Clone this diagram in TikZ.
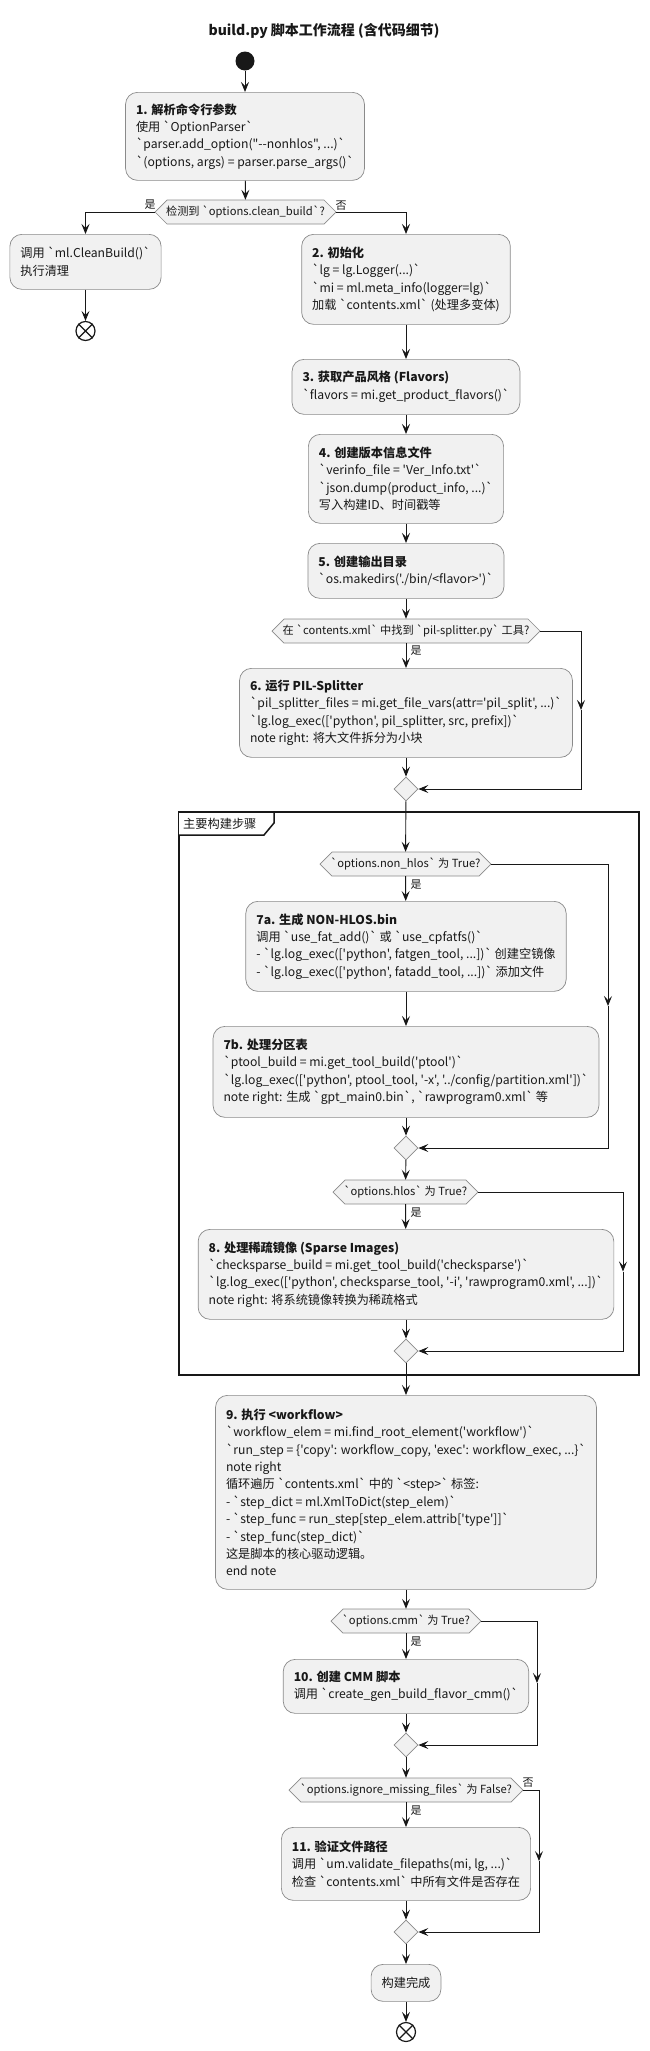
\documentclass[tikz,border=0pt]{standalone}
\usepackage{fontspec}
\newfontfamily\cn{Noto Sans CJK SC}
\usetikzlibrary{arrows.meta,calc,shapes.geometric}
\definecolor{boxfill}{HTML}{F1F1F1}
\definecolor{boxline}{HTML}{8A8A8A}
\definecolor{ink}{HTML}{181818}
\tikzset{
  box/.style={draw=boxline, fill=boxfill, rounded corners=12pt, line width=0.7pt, align=left,
    inner xsep=10.5pt, inner ysep=0pt, anchor=north, font=\cn\fontsize{12.2}{17.4}\selectfont, text=ink},
  hexlbl/.style={inner sep=0pt, minimum height=24pt, font=\cn\fontsize{11.2}{14}\selectfont, text=ink},
  hexshape/.style={draw=boxline, fill=boxfill, line width=0.7pt},
  merge/.style={shape=diamond, draw=boxline, fill=boxfill, line width=0.7pt, minimum width=24pt, minimum height=24pt, inner sep=0pt},
  arr/.style={draw=ink, line width=0.9pt, -{Stealth[length=10pt,width=8pt,inset=4pt]}},
  lbl/.style={font=\cn\fontsize{11}{13}\selectfont, text=ink, inner sep=0pt},
  endc/.style={circle, draw=ink, fill=white, line width=1.2pt, minimum size=19pt, inner sep=0pt},
  frm/.style={draw=ink, line width=1.5pt}
}
\newcommand\hexnode[5]{%
  \path[hexshape] ({#2-#4/2},#3) -- ({#2-#4/2+12},{#3-12}) -- ({#2+#4/2-12},{#3-12}) -- ({#2+#4/2},#3)
     -- ({#2+#4/2-12},{#3+12}) -- ({#2-#4/2+12},{#3+12}) -- cycle;
  \node[hexlbl, minimum width=#4pt] (#1) at (#2,#3) {#5};}
\begin{document}
\begin{tikzpicture}[x=1pt,y=-1pt]
\useasboundingbox (0,0) rectangle (649,2051);
% title
\node[font=\cn\bfseries\fontsize{14}{16}\selectfont, text=ink] (title) at (324,31) {build.py 脚本工作流程 (含代码细节)};
% start
\node[circle, fill=ink, minimum size=19pt, inner sep=0pt] (start) at (245,61) {};
\node[box, minimum width=236pt, minimum height=88pt] (b1) at (245,92)
  {\textbf{1. 解析命令行参数}\\使用 `OptionParser`\\`parser.add\_option("--nonhlos", ...)`\\`(options, args) = parser.parse\_args()`};
\hexnode{d1}{245.5}{212}{181}{检测到 `options.clean\_build`?}
\node[box, minimum width=147pt, minimum height=55pt] (bclean) at (85.5,234)
  {调用 `ml.CleanBuild()`\\执行清理};
\node[endc] (e1) at (85.5,331) {};
\draw[ink, line width=1.2pt] (e1.north east) -- (e1.south west) (e1.north west) -- (e1.south east);
\node[box, minimum width=205pt, minimum height=90pt] (b2) at (406,234)
  {\textbf{2. 初始化}\\`lg = lg.Logger(...)`\\`mi = ml.meta\_info(logger=lg)`\\加载 `contents.xml` (处理多变体)};
\node[box, minimum width=224pt, minimum height=55pt] (b3) at (406,359)
  {\textbf{3. 获取产品风格 (Flavors)}\\`flavors = mi.get\_product\_flavors()`};
\node[box, minimum width=192pt, minimum height=89pt] (b4) at (406,434)
  {\textbf{4. 创建版本信息文件}\\`verinfo\_file = 'Ver\_Info.txt'`\\`json.dump(product\_info, ...)`\\写入构建ID、时间戳等};
\node[box, minimum width=194pt, minimum height=55pt] (b5) at (406,543)
  {\textbf{5. 创建输出目录}\\`os.makedirs('./bin/<flavor>')`};
\hexnode{d2}{406}{631}{268}{在 `contents.xml` 中找到 `pil-splitter.py` 工具?}
\node[box, minimum width=330pt, minimum height=89pt] (b6) at (406,668)
  {\textbf{6. 运行 PIL-Splitter}\\`pil\_splitter\_files = mi.get\_file\_vars(attr='pil\_split', ...)`\\`lg.log\_exec(['python', pil\_splitter, src, prefix])`\\note right: 将大文件拆分为小块};
\node[merge] (m1) at (406,789) {};
% group frame
\draw[frm] (179,812) rectangle (639,1375);
\draw[frm, fill=white] (179,812) -- (274,812) -- (274,823) -- (264,835) -- (179,835);
\node[anchor=west, font=\cn\fontsize{12.2}{15}\selectfont, text=ink, inner sep=0pt] (grp) at (183,823.5) {主要构建步骤};
\hexnode{d3}{405.5}{864}{171}{`options.non\_hlos` 为 True?}
\node[box, minimum width=318pt, minimum height=90pt] (b7a) at (406,901)
  {\textbf{7a. 生成 NON-HLOS.bin}\\调用 `use\_fat\_add()` 或 `use\_cpfatfs()`\\- `lg.log\_exec(['python', fatgen\_tool, ...])` 创建空镜像\\- `lg.log\_exec(['python', fatadd\_tool, ...])` 添加文件};
\node[box, minimum width=384pt, minimum height=91pt] (b7b) at (406,1026)
  {\textbf{7b. 处理分区表}\\`ptool\_build = mi.get\_tool\_build('ptool')`\\`lg.log\_exec(['python', ptool\_tool, '-x', '../config/partition.xml'])`\\note right: 生成 `gpt\_main0.bin`, `rawprogram0.xml` 等};
\node[merge] (m2) at (406,1148) {};
\hexnode{d4}{405.5}{1192}{145}{`options.hlos` 为 True?}
\node[box, minimum width=412pt, minimum height=90pt] (b8) at (406,1229)
  {\textbf{8. 处理稀疏镜像 (Sparse Images)}\\`checksparse\_build = mi.get\_tool\_build('checksparse')`\\`lg.log\_exec(['python', checksparse\_tool, '-i', 'rawprogram0.xml', ...])`\\note right: 将系统镜像转换为稀疏格式};
\node[merge] (m3) at (406,1351) {};
\node[box, minimum width=376pt, minimum height=194pt] (b9) at (406,1395)
  {\textbf{9. 执行 <workflow>}\\`workflow\_elem = mi.find\_root\_element('workflow')`\\`run\_step = \{'copy': workflow\_copy, 'exec': workflow\_exec, ...\}`\\note right\\循环遍历 `contents.xml` 中的 `<step>` 标签:\\- `step\_dict = ml.XmlToDict(step\_elem)`\\- `step\_func = run\_step[step\_elem.attrib['type']]`\\- `step\_func(step\_dict)`\\这是脚本的核心驱动逻辑。\\end note};
\hexnode{d5}{406}{1621}{150}{`options.cmm` 为 True?}
\node[box, minimum width=242pt, minimum height=54pt] (b10) at (406,1659)
  {\textbf{10. 创建 CMM 脚本}\\调用 `create\_gen\_build\_flavor\_cmm()`};
\node[merge] (m4) at (406,1745) {};
\hexnode{d6}{406}{1790}{234}{`options.ignore\_missing\_files` 为 False?}
\node[box, minimum width=246pt, minimum height=73pt] (b11) at (406,1827)
  {\textbf{11. 验证文件路径}\\调用 `um.validate\_filepaths(mi, lg, ...)`\\检查 `contents.xml` 中所有文件是否存在};
\node[merge] (m5) at (406,1932) {};
\node[box, minimum width=68pt, minimum height=37pt, align=center] (bfin) at (406,1964) {构建完成};
\node[endc] (e2) at (406,2032) {};
\draw[ink, line width=1.2pt] (e2.north east) -- (e2.south west) (e2.north west) -- (e2.south east);
% connectors
\draw[arr] (start) -- (b1);
\draw[arr] (b1) -- (d1);
\draw[arr] (d1.west) -| (bclean.north);
\draw[arr] (bclean) -- (e1);
\draw[arr] (d1.east) -| (b2.north);
\draw[arr] (b2) -- (b3);
\draw[arr] (b3) -- (b4);
\draw[arr] (b4) -- (b5);
\draw[arr] (b5) -- (d2);
\draw[arr] (d2) -- (b6);
\draw[arr] (b6) -- (m1);
\coordinate (p2a) at (581,631); \coordinate (p2b) at (581,789);
\draw[arr] (d2.east) -- (p2a) -- ($(p2a)!.5!(p2b)$);
\draw[arr] ($(p2a)!.5!(p2b)$) -- (p2b) -- (m1.east);
\draw[arr] (m1) -- (d3);
\draw[arr] (d3) -- (b7a);
\draw[arr] (b7a) -- (b7b);
\draw[arr] (b7b) -- (m2);
\coordinate (p3a) at (608,864); \coordinate (p3b) at (608,1148);
\draw[arr] (d3.east) -- (p3a) -- ($(p3a)!.5!(p3b)$);
\draw[arr] ($(p3a)!.5!(p3b)$) -- (p3b) -- (m2.east);
\draw[arr] (m2) -- (d4);
\draw[arr] (d4) -- (b8);
\draw[arr] (b8) -- (m3);
\coordinate (p4a) at (623,1192); \coordinate (p4b) at (623,1351);
\draw[arr] (d4.east) -- (p4a) -- ($(p4a)!.5!(p4b)$);
\draw[arr] ($(p4a)!.5!(p4b)$) -- (p4b) -- (m3.east);
\draw[arr] (m3) -- (b9);
\draw[arr] (b9) -- (d5);
\draw[arr] (d5) -- (b10);
\draw[arr] (b10) -- (m4);
\coordinate (p5a) at (537,1621); \coordinate (p5b) at (537,1745);
\draw[arr] (d5.east) -- (p5a) -- ($(p5a)!.5!(p5b)$);
\draw[arr] ($(p5a)!.5!(p5b)$) -- (p5b) -- (m4.east);
\draw[arr] (m4) -- (d6);
\draw[arr] (d6) -- (b11);
\draw[arr] (b11) -- (m5);
\coordinate (p6a) at (539,1790); \coordinate (p6b) at (539,1932);
\draw[arr] (d6.east) -- (p6a) -- ($(p6a)!.5!(p6b)$);
\draw[arr] ($(p6a)!.5!(p6b)$) -- (p6b) -- (m5.east);
\draw[arr] (m5) -- (bfin);
\draw[arr] (bfin) -- (e2);
% labels
\node[lbl] (l1y) at (150,205) {是};
\node[lbl] (l1n) at (341,206) {否};
\node[lbl] (l2y) at (416,651) {是};
\node[lbl] (l3y) at (416,885) {是};
\node[lbl] (l4y) at (416,1213) {是};
\node[lbl] (l5y) at (416,1642) {是};
\node[lbl] (l6y) at (416,1811) {是};
\node[lbl] (l6n) at (528,1783) {否};
\end{tikzpicture}
\end{document}
